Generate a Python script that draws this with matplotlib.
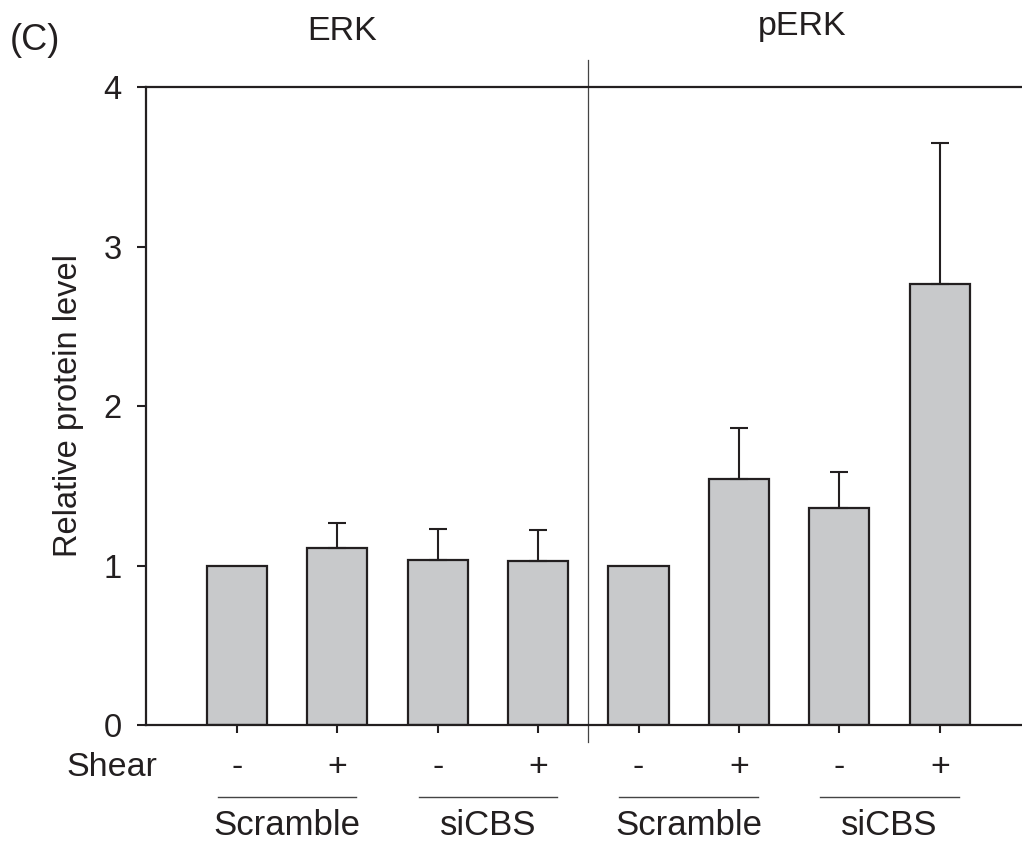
import numpy as np
import matplotlib.pyplot as plt

plt.rcParams['font.family'] = ['Liberation Sans', 'DejaVu Sans']

# relative protein level, Scramble -/+ then siCBS -/+ for ERK and pERK
panels = ['ERK', 'pERK']
groups = ['Scramble', 'siCBS', 'Scramble', 'siCBS']
shear = ['-', '+', '-', '+', '-', '+', '-', '+']
means = [1.00, 1.108, 1.036, 1.031, 1.00, 1.540, 1.363, 2.767]
errs = [0.0, 0.159, 0.191, 0.193, 0.0, 0.322, 0.221, 0.884]

ink = '#231f20'
fig = plt.figure(figsize=(10.22, 8.46), dpi=100)
ax = fig.add_axes([146 / 1022, 1 - 725 / 846, 876 / 1022, 638 / 846])

x = np.arange(1, len(means) + 1)
ax.bar(x, means, 0.6, color='#c8c9cb', edgecolor=ink, linewidth=1.6, zorder=2)
has_err = np.array(errs) > 0
ax.errorbar(x[has_err], np.array(means)[has_err],
            yerr=[np.zeros(has_err.sum()), np.array(errs)[has_err]],
            fmt='none', ecolor=ink, elinewidth=1.5, capsize=6.8, capthick=1.5, zorder=3)

ax.set_xlim(0.094, 0.094 + 876 / 100.4)
ax.set_ylim(0, 4)
ax.set_yticks([0, 1, 2, 3, 4])
ax.set_xticks(x)
ax.set_xticklabels([])
ax.tick_params(axis='y', direction='out', length=6.5, width=1.5, pad=11,
               labelsize=23.5, colors=ink)
ax.tick_params(axis='x', direction='out', length=6, width=1.5, colors=ink)
ax.spines['right'].set_visible(False)
for s in ['left', 'bottom', 'top']:
    ax.spines[s].set_linewidth(1.6)
    ax.spines[s].set_color(ink)
ax.set_ylabel('Relative protein level', fontsize=23.5, color=ink, labelpad=14)

tr = ax.get_xaxis_transform()
# divider between ERK and pERK
ax.plot([4.5, 4.5], [-0.027, 1.042], transform=tr, color='#444444', lw=0.9, clip_on=False)

for xi, s in zip(x, shear):
    ax.text(xi, -0.066, s, transform=tr, ha='center', va='center', fontsize=24.5, color=ink)
fig.text(157 / 1022, 1 - 767 / 846, 'Shear', ha='right', va='center', fontsize=24.5, color=ink)

for i, g in enumerate(groups):
    mid = 2 * i + 1.5
    ax.plot([mid - 0.69, mid + 0.69], [-0.113, -0.113], transform=tr, color='#444444',
            lw=1.0, clip_on=False)
    ax.text(mid, -0.172, g, transform=tr, ha='center', va='baseline', fontsize=25, color=ink)

fig.text(342 / 1022, 1 - 32 / 846, panels[0], ha='center', va='center', fontsize=24.5, color=ink)
fig.text(802 / 1022, 1 - 26 / 846, panels[1], ha='center', va='center', fontsize=24.5, color=ink)
fig.text(10 / 1022, 1 - 41 / 846, '(C)', ha='left', va='center', fontsize=26, color=ink)

plt.savefig('out.png', dpi=100)
